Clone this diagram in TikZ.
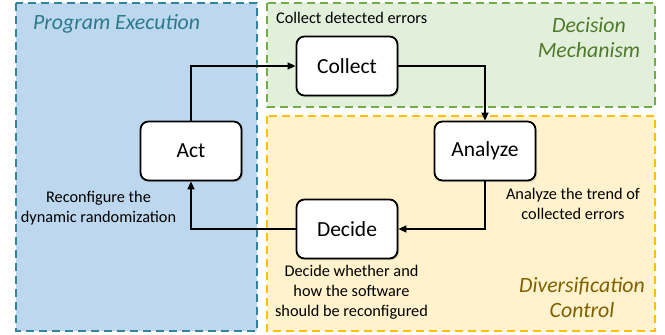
\documentclass[tikz,border=0pt]{standalone}
\usepackage{fontspec}
\setmainfont{Carlito}
\usetikzlibrary{arrows.meta,shadows}
\definecolor{pblue}{HTML}{BDD7EE}
\definecolor{pblueb}{HTML}{31849B}
\definecolor{pbluet}{HTML}{2A7A8C}
\definecolor{pgreen}{HTML}{E2EFDA}
\definecolor{pgreenb}{HTML}{70AD47}
\definecolor{pgreent}{HTML}{4F7A2C}
\definecolor{pyellow}{HTML}{FFF2CC}
\definecolor{pyellowb}{HTML}{FFC000}
\definecolor{pyellowt}{HTML}{7F6000}
\tikzset{
  region/.style={line width=1.2pt, dash pattern=on 8pt off 5pt},
  stepbox/.style={draw=black, fill=white, line width=1.8pt, rounded corners=8pt,
    minimum width=101pt, minimum height=59pt, inner sep=0pt,
    font=\fontsize{21.5}{24}\selectfont,
    drop shadow={shadow xshift=1.5pt, shadow yshift=-1.5pt, opacity=0.35}},
  note/.style={font=\fontsize{16.3}{20}\selectfont, align=center, inner sep=0pt},
  title/.style={font=\fontsize{21.8}{25}\selectfont\itshape, align=center, inner sep=0pt},
  flow/.style={line width=1.4pt, -{Triangle[length=8pt,width=7pt]}}
}
\begin{document}
\begin{tikzpicture}[x=1pt,y=-1pt]
\useasboundingbox[fill=white] (0,0) rectangle (665,335);
% regions
\draw[region, fill=pblue, draw=pblueb] (16,3) rectangle (257,331);
\draw[region, fill=pgreen, draw=pgreenb] (267,3) rectangle (655,107);
\draw[region, fill=pyellow, draw=pyellowb] (267,116) rectangle (655,331);
% titles
\node[title, text=pbluet, anchor=west] (tpe) at (33,24) {Program Execution};
\node[title, text=pgreent] (tdm) at (589,38) {Decision\\Mechanism};
\node[title, text=pyellowt] (tdc) at (582,298) {Diversification\\Control};
% steps
\node[stepbox] (collect) at (347,66) {Collect};
\node[stepbox] (act) at (191,151) {Act};
\node[stepbox] (analyze) at (485,151) {Analyze};
\node[stepbox] (decide) at (347,229) {Decide};
% notes
\node[note, anchor=west] (ncol) at (276,18) {Collect detected errors};
\node[note] (nact) at (98.5,208) {Reconfigure the\\dynamic randomization};
\node[note] (nana) at (573,204) {Analyze the trend of\\collected errors};
\node[note] (ndec) at (351.5,292) {Decide whether and\\how the software\\should be reconfigured};
% connectors
\draw[flow] (act.north) |- (collect.west);
\draw[flow] (collect.east) -| (analyze.north);
\draw[flow] (analyze.south) |- (decide.east);
\draw[flow] (decide.west) -| (act.south);
\end{tikzpicture}
\end{document}
